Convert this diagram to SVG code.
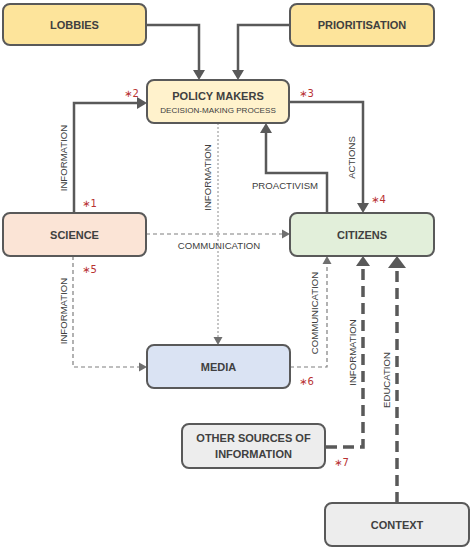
<svg xmlns="http://www.w3.org/2000/svg" width="473" height="550" viewBox="0 0 473 550">
<style>
.box{stroke:#595959;stroke-width:2}
.t{font-family:"Liberation Sans",Arial,sans-serif;font-weight:bold;font-size:11px;fill:#404040;text-anchor:middle}
.sub{font-family:"Liberation Sans",Arial,sans-serif;font-size:8.1px;fill:#404040;text-anchor:middle}
.lb{font-family:"Liberation Sans",Arial,sans-serif;font-size:9.6px;fill:#404040;text-anchor:middle}
.ast{font-family:"DejaVu Sans","Liberation Sans",sans-serif;font-size:10px;fill:#b83232}
.solid{fill:none;stroke:#595959;stroke-width:2.5}
.thin{fill:none;stroke:#7f7f7f;stroke-width:1.2;stroke-dasharray:4 3}
.dot{fill:none;stroke:#8c8c8c;stroke-width:1;stroke-dasharray:2 2}
.thick{fill:none;stroke:#595959;stroke-width:3.5;stroke-dasharray:11 6}
</style>
<defs>
<marker id="aS" markerUnits="userSpaceOnUse" markerWidth="12" markerHeight="14" refX="0" refY="6" orient="auto" viewBox="0 0 12 12" overflow="visible"><path d="M0,0 L10,6 L0,12 z" fill="#595959"/></marker>
<marker id="aT" markerUnits="userSpaceOnUse" markerWidth="10" markerHeight="10" refX="0" refY="5" orient="auto" viewBox="0 0 10 10" overflow="visible"><path d="M0,0.5 L8,5 L0,9.5 z" fill="#6f6f6f"/></marker>
<marker id="aK" markerUnits="userSpaceOnUse" markerWidth="12" markerHeight="14" refX="0" refY="7" orient="auto" viewBox="0 0 12 14" overflow="visible"><path d="M0,0 L10,7 L0,14 z" fill="#595959"/></marker>
<marker id="aE" markerUnits="userSpaceOnUse" markerWidth="14" markerHeight="18" refX="0" refY="9" orient="auto" viewBox="0 0 14 18" overflow="visible"><path d="M0,0 L12,9 L0,18 z" fill="#595959"/></marker>
</defs>

<g id="connectors">
<path class="solid" d="M146,25 H199 V70" marker-end="url(#aS)"/>
<path class="solid" d="M290,25 H238 V70" marker-end="url(#aS)"/>
<path class="solid" d="M74,213 V103 H137" marker-end="url(#aS)"/>
<path class="solid" d="M289,102 H363 V203" marker-end="url(#aS)"/>
<path class="solid" d="M327,213 V173 H266 V133" marker-end="url(#aS)"/>
<path class="dot" d="M218,123 V337" marker-end="url(#aT)"/>
<path class="thin" d="M146,234 H282" marker-end="url(#aT)"/>
<path class="thin" d="M73,256 V367 H139" marker-end="url(#aT)"/>
<path class="thin" d="M290,367 H327 V264" marker-end="url(#aT)"/>
<path class="thick" d="M326,447 H363 V266" marker-end="url(#aK)"/>
<path class="thick" d="M397,503 V268" marker-end="url(#aE)"/>

<text class="lb" transform="translate(67,158) rotate(-90)">INFORMATION</text>
<text class="lb" transform="translate(355,157.5) rotate(-90)">ACTIONS</text>
<text class="lb" transform="translate(211,177.5) rotate(-90)">INFORMATION</text>
<text class="lb" x="285" y="189">PROACTIVISM</text>
<text class="lb" x="219" y="249">COMMUNICATION</text>
<text class="lb" transform="translate(67,311) rotate(-90)">INFORMATION</text>
<text class="lb" transform="translate(318,313) rotate(-90)">COMMUNICATION</text>
<text class="lb" transform="translate(356,352.5) rotate(-90)">INFORMATION</text>
<text class="lb" transform="translate(390,380) rotate(-90)">EDUCATION</text>

<text class="ast" x="124" y="97">∗2</text>
<text class="ast" x="299" y="97">∗3</text>
<text class="ast" x="82" y="207">∗1</text>
<text class="ast" x="371" y="203">∗4</text>
<text class="ast" x="82" y="273">∗5</text>
<text class="ast" x="299" y="385">∗6</text>
<text class="ast" x="334" y="466">∗7</text>
</g>

<g id="lobbies"><rect class="box" x="3" y="4" width="143" height="41" rx="7" fill="#fde49b"/><text class="t" x="74.5" y="29">LOBBIES</text></g>
<g id="prioritisation"><rect class="box" x="290" y="4" width="144" height="42" rx="7" fill="#fde49b"/><text class="t" x="362" y="29">PRIORITISATION</text></g>
<g id="policy-makers"><rect class="box" x="147" y="80" width="142" height="43" rx="7" fill="#fff2cc"/><text class="t" x="218" y="100">POLICY MAKERS</text><text class="sub" x="218" y="113">DECISION-MAKING PROCESS</text></g>
<g id="science"><rect class="box" x="3" y="213" width="143" height="43" rx="7" fill="#fbe4d6"/><text class="t" x="74.5" y="238.5">SCIENCE</text></g>
<g id="citizens"><rect class="box" x="290" y="213" width="144" height="43" rx="7" fill="#e2efda"/><text class="t" x="362" y="238.5">CITIZENS</text></g>
<g id="media"><rect class="box" x="147" y="345" width="143" height="43" rx="7" fill="#dae3f3"/><text class="t" x="218.5" y="370.5">MEDIA</text></g>
<g id="other-sources"><rect class="box" x="182" y="424" width="143" height="44" rx="7" fill="#ededed"/><text class="t" x="253.5" y="442">OTHER SOURCES OF</text><text class="t" x="253.5" y="458">INFORMATION</text></g>
<g id="context"><rect class="box" x="325" y="503" width="144" height="43" rx="7" fill="#ededed"/><text class="t" x="397" y="528.5">CONTEXT</text></g>
</svg>
